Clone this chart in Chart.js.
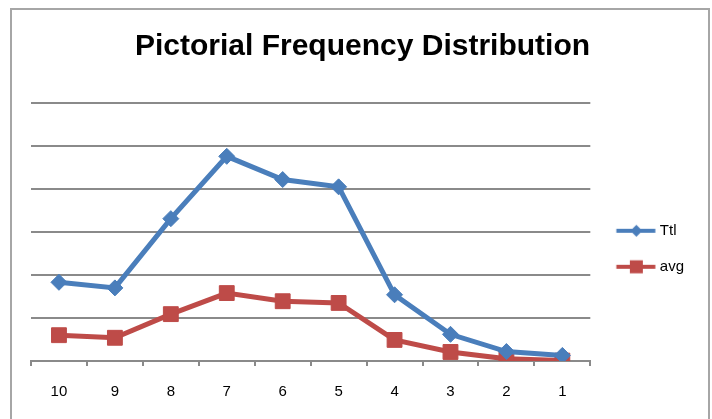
<!DOCTYPE html>
<html>
<head>
<meta charset="utf-8">
<script src="https://cdn.jsdelivr.net/npm/chart.js@4/dist/chart.umd.min.js"></script>
<style>
  html, body { margin: 0; padding: 0; background: #fff; }
  #wrap { position: relative; width: 712px; height: 419px; }
  #frame {
    position: absolute; left: 10px; top: 8px; width: 696px; height: 420px;
    border: 2px solid #a6a6a6; pointer-events: none;
  }
  canvas { position: absolute; left: 0; top: 0; }
</style>
</head>
<body>
<div id="wrap">
  <canvas id="chart" width="712" height="419"></canvas>
  <div id="frame"></div>
</div>
<script>
const categories = ['10', '9', '8', '7', '6', '5', '4', '3', '2', '1'];
const ttlValues = [18.3, 17.0, 33.1, 47.6, 42.2, 40.5, 15.4, 6.2, 2.2, 1.3];
const avgValues = [6.0, 5.4, 10.9, 15.8, 13.9, 13.5, 4.9, 2.1, 0.5, 0.1];
const seriesNames = ['Ttl', 'avg'];

const BLUE = '#4a7ebb';
const RED = '#be4b48';
const GRID = '#8a8a8a';
const FONT = "'Liberation Sans', Arial, sans-serif";

// small line+marker icon for the legend, like excel draws it
function legendIcon(color, shape) {
    const c = document.createElement('canvas');
    c.width = 50;
    c.height = 16;
    const ctx = c.getContext('2d');
    ctx.strokeStyle = color;
    ctx.fillStyle = color;
    ctx.lineWidth = 4;
    ctx.beginPath();
    ctx.moveTo(9.5, 8);
    ctx.lineTo(48.5, 8);
    ctx.stroke();
    ctx.beginPath();
    if (shape === 'diamond') {
        ctx.moveTo(29.5, 2);
        ctx.lineTo(35.5, 8);
        ctx.lineTo(29.5, 14);
        ctx.lineTo(23.5, 8);
    } else {
        ctx.rect(23, 1.5, 13, 13);
    }
    ctx.closePath();
    ctx.fill();
    return c;
}

const icons = [legendIcon(BLUE, 'diamond'), legendIcon(RED, 'square')];

const config = {
    type: 'line',
    data: {
        labels: categories,
        datasets: [
            {
                label: seriesNames[0],
                data: ttlValues,
                borderColor: BLUE,
                backgroundColor: BLUE,
                borderWidth: 5,
                pointStyle: 'rectRot',
                pointRadius: 8,
                pointBorderWidth: 1,
                tension: 0,
            },
            {
                label: seriesNames[1],
                data: avgValues,
                borderColor: RED,
                backgroundColor: RED,
                borderWidth: 5,
                pointStyle: 'rect',
                pointRadius: 10.5,
                pointBorderWidth: 1,
                tension: 0,
            },
        ],
    },
    options: {
        responsive: false,
        animation: false,
        layout: {
            padding: { left: 31, right: 18, top: 0, bottom: 1 },
        },
        plugins: {
            title: {
                display: true,
                text: 'Pictorial Frequency Distribution',
                color: '#000',
                font: { family: FONT, size: 30, weight: 'bold' },
                padding: { top: 29, bottom: 38 },
            },
            legend: {
                position: 'right',
                fullSize: false,
                title: {
                    display: true,
                    text: ' ',
                    font: { family: FONT, size: 13 },
                    padding: 9,
                },
                labels: {
                    usePointStyle: true,
                    pointStyleWidth: 41,
                    padding: 21,
                    color: '#000',
                    font: { family: FONT, size: 15 },
                    generateLabels: (chart) => chart.data.datasets.map((ds, i) => ({
                        text: ds.label,
                        fontColor: '#000',
                        pointStyle: icons[i],
                        fillStyle: ds.borderColor,
                        strokeStyle: ds.borderColor,
                        lineWidth: 0,
                        datasetIndex: i,
                        hidden: false,
                    })),
                },
            },
            tooltip: { enabled: false },
        },
        scales: {
            x: {
                offset: true,
                grid: {
                    offset: true,
                    drawOnChartArea: false,
                    drawTicks: true,
                    tickLength: 5,
                    color: GRID,
                    lineWidth: 2,
                },
                border: { color: GRID, width: 2 },
                ticks: {
                    color: '#000',
                    padding: 17,
                    font: { family: FONT, size: 15 },
                    maxRotation: 0,
                },
            },
            y: {
                min: 0,
                max: 60,
                ticks: { display: false, stepSize: 10 },
                grid: { color: GRID, lineWidth: 2, drawTicks: false },
                border: { display: false },
            },
        },
    },
};

new Chart(document.getElementById('chart'), config);
</script>
</body>
</html>
